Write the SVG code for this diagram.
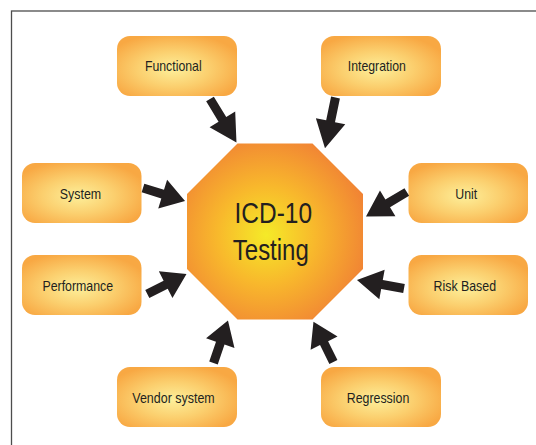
<svg xmlns="http://www.w3.org/2000/svg" xmlns:xlink="http://www.w3.org/1999/xlink" width="536" height="445" viewBox="0 0 536 445">
<style>
.box{fill:url(#boxGrad);}
.lbl{font-family:"Liberation Sans",Arial,sans-serif;font-size:14.5px;fill:#231f20;text-anchor:middle;}
.big{font-family:"Liberation Sans",Arial,sans-serif;font-size:30px;fill:#231f20;text-anchor:middle;}
.arr{fill:#231f20;}
</style>
<defs>
<radialGradient id="boxGrad" cx="0.47" cy="0.55" r="0.6">
<stop offset="0" stop-color="#fdef9a"/>
<stop offset="0.5" stop-color="#fbcf6e"/>
<stop offset="1" stop-color="#f8a843"/>
</radialGradient>
<radialGradient id="octGrad" cx="0.45" cy="0.52" r="0.62">
<stop offset="0" stop-color="#f5ea28"/>
<stop offset="0.45" stop-color="#f8b82c"/>
<stop offset="1" stop-color="#f07e35"/>
</radialGradient>
<polygon id="arrow" class="arr" points="0,-4.5 22,-4.5 22,-15 47,0 22,15 22,4.5 0,4.5"/>
</defs>
<rect x="0" y="0" width="536" height="445" fill="#ffffff"/>
<rect x="11.5" y="11" width="540" height="450" fill="none" stroke="#4d4d4d" stroke-width="1.3"/>

<g id="center">
<polygon points="237.5,143.5 312.5,143.5 363,194 363,269 312.5,319.5 237.5,319.5 187,269 187,194" fill="url(#octGrad)"/>
<text class="big" x="273.3" y="223.3" textLength="77.5" lengthAdjust="spacingAndGlyphs">ICD-10</text>
<text class="big" x="270.8" y="259.5" textLength="76" lengthAdjust="spacingAndGlyphs">Testing</text>
</g>

<g id="functional">
<rect class="box" x="117" y="36" width="120" height="60" rx="13"/>
<text class="lbl" x="173.3" y="71" textLength="56.7" lengthAdjust="spacingAndGlyphs">Functional</text>
</g>
<g id="integration">
<rect class="box" x="321" y="36" width="120" height="60" rx="13"/>
<text class="lbl" x="376.8" y="71" textLength="58" lengthAdjust="spacingAndGlyphs">Integration</text>
</g>
<g id="system">
<rect class="box" x="22" y="163" width="119.5" height="60" rx="13"/>
<text class="lbl" x="80.5" y="198.5" textLength="41.4" lengthAdjust="spacingAndGlyphs">System</text>
</g>
<g id="unit">
<rect class="box" x="408.5" y="163" width="119.5" height="60" rx="13"/>
<text class="lbl" x="466.3" y="198.5" textLength="21.9" lengthAdjust="spacingAndGlyphs">Unit</text>
</g>
<g id="performance">
<rect class="box" x="22" y="255" width="119.5" height="60" rx="13"/>
<text class="lbl" x="77.8" y="290.5" textLength="70.8" lengthAdjust="spacingAndGlyphs">Performance</text>
</g>
<g id="riskbased">
<rect class="box" x="408.5" y="255" width="119.5" height="60" rx="13"/>
<text class="lbl" x="464.8" y="290.5" textLength="62.5" lengthAdjust="spacingAndGlyphs">Risk Based</text>
</g>
<g id="vendor">
<rect class="box" x="117" y="367" width="120" height="60" rx="13"/>
<text class="lbl" x="173.5" y="402.5" textLength="82.4" lengthAdjust="spacingAndGlyphs">Vendor system</text>
</g>
<g id="regression">
<rect class="box" x="321" y="367" width="120" height="60" rx="13"/>
<text class="lbl" x="378" y="402.5" textLength="62.5" lengthAdjust="spacingAndGlyphs">Regression</text>
</g>

<g id="connectors">
<use xlink:href="#arrow" transform="translate(210,99) rotate(58.65) scale(1.083,1)"/>
<use xlink:href="#arrow" transform="translate(335.5,97.5) rotate(101.7) scale(1.104,1)"/>
<use xlink:href="#arrow" transform="translate(143,188) rotate(17.2) scale(0.936,1)"/>
<use xlink:href="#arrow" transform="translate(406.8,192) rotate(149) scale(1.013,1)"/>
<use xlink:href="#arrow" transform="translate(147.3,294) rotate(-27) scale(0.936,1)"/>
<use xlink:href="#arrow" transform="translate(404,288.5) rotate(190.25) scale(1.017,1)"/>
<use xlink:href="#arrow" transform="translate(213.5,363) rotate(-71.2) scale(0.955,1)"/>
<use xlink:href="#arrow" transform="translate(333.4,362) rotate(-116.3) scale(0.957,1)"/>
</g>
</svg>
